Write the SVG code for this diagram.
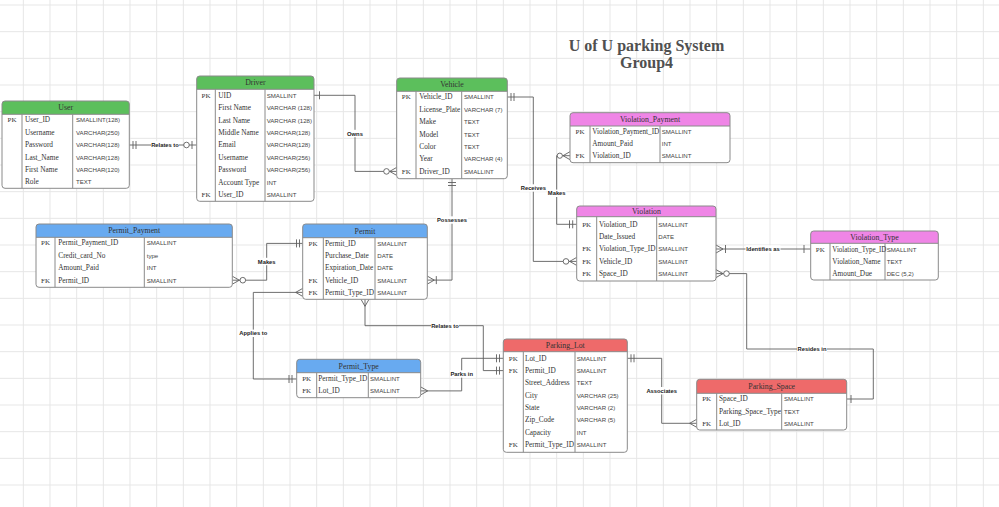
<svg xmlns="http://www.w3.org/2000/svg" width="999" height="507" viewBox="0 0 999 507">
<defs>
<pattern id="grid" x="22.83" y="4.5" width="26.667" height="26.667" patternUnits="userSpaceOnUse">
<path d="M0 0.5 H26.667 M0.5 0 V26.667" fill="none" stroke="#e6e6e6" stroke-width="1"/>
</pattern>
<style>
.bg{fill:#fff}
.bd{fill:none;stroke:#8a8a8a;stroke-width:1}
.dv{stroke:#8a8a8a;stroke-width:1}
.g{fill:#5cbf5c}.m{fill:#ef85e6}.b{fill:#68aaf0}.r{fill:#ee6a6a}
.ht{font-family:"Liberation Serif",serif;font-size:7.8px;fill:#333;text-anchor:middle}
.k{font-family:"Liberation Serif",serif;font-size:7px;fill:#333;text-anchor:middle}
.n{font-family:"Liberation Serif",serif;font-size:7.3px;fill:#333}
.t{font-family:"Liberation Sans",sans-serif;font-size:6.1px;fill:#444}
.ln{fill:none;stroke:#5e5e5e;stroke-width:0.9}
.ci{fill:#fff;stroke:#5e5e5e;stroke-width:0.9}
.lb{font-family:"Liberation Sans",sans-serif;font-size:5.8px;font-weight:bold;fill:#222;text-anchor:middle}
.lbg{fill:#fff}
.ttl{font-family:"Liberation Serif",serif;font-size:16px;font-weight:bold;fill:#505050;text-anchor:middle}
</style>
</defs>
<rect width="999" height="507" fill="#fff"/>
<rect width="999" height="507" fill="url(#grid)"/>

<g id="title">
<text class="ttl" x="646.5" y="50.5">U of U parking System</text>
<text class="ttl" x="646.5" y="67.5">Group4</text>
</g>

<g id="connectors">
<path class="ln" d="M129.3 145 H196.7 M133 141 V149 M136 141 V149 M192 141 V149"/>
<circle class="ci" cx="186.5" cy="145" r="2.8"/>
<rect class="lbg" x="151" y="141.3" width="28" height="7.4"/>
<text class="lb" x="165" y="147.1">Relates to</text>

<path class="ln" d="M314 95.3 H355 V171.4 H396.7 M319.5 91.3 V99.3 M389.7 171.4 L396.7 167.4 M389.7 171.4 L396.7 175.4"/>
<circle class="ci" cx="386.5" cy="171.4" r="2.8"/>
<rect class="lbg" x="346" y="129.8" width="18" height="7.4"/>
<text class="lb" x="355" y="135.6">Owns</text>

<path class="ln" d="M452 178.7 V280.1 H427.3 M448 182.5 H456 M448 185.5 H456 M434.3 280.1 L427.3 276.1 M434.3 280.1 L427.3 284.1 M436.3 276.1 V284.1"/>
<rect class="lbg" x="436" y="216.3" width="32" height="7.4"/>
<text class="lb" x="452" y="222.1">Possesses</text>

<path class="ln" d="M507.3 97 H533.3 V261.4 H576.7 M511 93 V101 M514 93 V101 M569.7 261.4 L576.7 257.4 M569.7 261.4 L576.7 265.4"/>
<circle class="ci" cx="566" cy="261.4" r="2.8"/>
<rect class="lbg" x="520" y="184.3" width="26.6" height="7.4"/>
<text class="lb" x="533.3" y="190.1">Receives</text>

<path class="ln" d="M570 155.7 H556.7 V224.3 H576.7 M563 155.7 L570 151.7 M563 155.7 L570 159.7 M569.5 220.3 V228.3 M572.7 220.3 V228.3"/>
<circle class="ci" cx="559.8" cy="155.7" r="2.6"/>
<rect class="lbg" x="547" y="189.6" width="19.4" height="7.4"/>
<text class="lb" x="556.7" y="195.4">Makes</text>

<path class="ln" d="M716 249 H810.7 M723 249 L716 245 M723 249 L716 253 M725.5 245 V253 M804 245 V253"/>
<rect class="lbg" x="745.5" y="245.3" width="35" height="7.4"/>
<text class="lb" x="763" y="251.1">Identifies as</text>

<path class="ln" d="M716 273.6 H746.7 V349 H873.3 V399 H846.7 M723 273.6 L716 269.6 M723 273.6 L716 277.6 M851 395 V403"/>
<circle class="ci" cx="726.5" cy="273.6" r="2.8"/>
<rect class="lbg" x="797" y="345.3" width="30" height="7.4"/>
<text class="lb" x="812" y="351.1">Resides in</text>

<path class="ln" d="M232.3 280.2 H266.7 V243.4 H302.7 M239.3 280.2 L232.3 276.2 M239.3 280.2 L232.3 284.2 M296.5 239.4 V247.4 M299.5 239.4 V247.4"/>
<circle class="ci" cx="242.8" cy="280.2" r="2.8"/>
<rect class="lbg" x="257" y="257.8" width="19.4" height="7.4"/>
<text class="lb" x="266.7" y="263.6">Makes</text>

<path class="ln" d="M302.7 292.4 H253.3 V379 H296.7 M295.7 292.4 L302.7 288.4 M295.7 292.4 L302.7 296.4 M289 375 V383 M292 375 V383"/>
<rect class="lbg" x="239" y="329.6" width="29" height="7.4"/>
<text class="lb" x="253.3" y="335.4">Applies to</text>

<path class="ln" d="M365 299.3 V325.7 H483.3 V370.6 H503.3 M365 306.3 L361 299.3 M365 306.3 L369 299.3 M496.5 366.6 V374.6 M499.5 366.6 V374.6"/>
<rect class="lbg" x="431" y="322" width="28" height="7.4"/>
<text class="lb" x="445" y="327.8">Relates to</text>

<path class="ln" d="M420.7 390.9 H461.7 V358.3 H503.3 M427.7 390.9 L420.7 386.9 M427.7 390.9 L420.7 394.9 M496.5 354.3 V362.3 M499.5 354.3 V362.3"/>
<rect class="lbg" x="450" y="370.3" width="23.4" height="7.4"/>
<text class="lb" x="461.7" y="376.1">Parks in</text>

<path class="ln" d="M627.3 358.3 H661.7 V423.3 H696.7 M631 354.3 V362.3 M634 354.3 V362.3 M689.7 423.3 L696.7 419.3 M689.7 423.3 L696.7 427.3"/>
<rect class="lbg" x="646" y="387" width="31.4" height="7.4"/>
<text class="lb" x="661.7" y="392.8">Associates</text>
</g>

<g id="user">
<rect class="bg" x="2" y="101" width="127.3" height="87.3" rx="3"/>
<path class="g" d="M2 114.3 V104 Q2 101 5 101 H126.3 Q129.3 101 129.3 104 V114.3 Z"/>
<path class="dv" d="M2 114.3 H129.3 M22 114.3 V188.3 M72.7 114.3 V188.3"/>
<rect class="bd" x="2" y="101" width="127.3" height="87.3" rx="3"/>
<text class="ht" x="65.7" y="110.4">User</text>
<text class="k" x="12" y="122.4">PK</text>
<text class="n" x="25" y="122.4">User_ID</text><text class="t" x="76" y="122.4">SMALLINT(128)</text>
<text class="n" x="25" y="134.8">Username</text><text class="t" x="76" y="134.8">VARCHAR(250)</text>
<text class="n" x="25" y="147.2">Password</text><text class="t" x="76" y="147.2">VARCHAR(128)</text>
<text class="n" x="25" y="159.6">Last_Name</text><text class="t" x="76" y="159.6">VARCHAR(128)</text>
<text class="n" x="25" y="172">First Name</text><text class="t" x="76" y="172">VARCHAR(120)</text>
<text class="n" x="25" y="184.4">Role</text><text class="t" x="76" y="184.4">TEXT</text>
</g>

<g id="driver">
<rect class="bg" x="196.7" y="76" width="117.3" height="125.3" rx="3"/>
<path class="g" d="M196.7 89.3 V79 Q196.7 76 199.7 76 H311 Q314 76 314 79 V89.3 Z"/>
<path class="dv" d="M196.7 89.3 H314 M215.3 89.3 V201.3 M265 89.3 V201.3"/>
<rect class="bd" x="196.7" y="76" width="117.3" height="125.3" rx="3"/>
<text class="ht" x="255.4" y="85.4">Driver</text>
<text class="k" x="206" y="97.7">PK</text>
<text class="n" x="218.3" y="97.7">UID</text><text class="t" x="266.7" y="97.7">SMALLINT</text>
<text class="n" x="218.3" y="110.1">First Name</text><text class="t" x="266.7" y="110.1">VARCHAR (128)</text>
<text class="n" x="218.3" y="122.5">Last Name</text><text class="t" x="266.7" y="122.5">VARCHAR (128)</text>
<text class="n" x="218.3" y="134.9">Middle Name</text><text class="t" x="266.7" y="134.9">VARCHAR(128)</text>
<text class="n" x="218.3" y="147.3">Email</text><text class="t" x="266.7" y="147.3">VARCHAR(128)</text>
<text class="n" x="218.3" y="159.7">Username</text><text class="t" x="266.7" y="159.7">VARCHAR(256)</text>
<text class="n" x="218.3" y="172.1">Password</text><text class="t" x="266.7" y="172.1">VARCHAR(256)</text>
<text class="n" x="218.3" y="184.5">Account Type</text><text class="t" x="266.7" y="184.5">INT</text>
<text class="k" x="206" y="196.9">FK</text>
<text class="n" x="218.3" y="196.9">User_ID</text><text class="t" x="266.7" y="196.9">SMALLINT</text>
</g>

<g id="vehicle">
<rect class="bg" x="396.7" y="78" width="110.6" height="100.7" rx="3"/>
<path class="g" d="M396.7 91.3 V81 Q396.7 78 399.7 78 H504.3 Q507.3 78 507.3 81 V91.3 Z"/>
<path class="dv" d="M396.7 91.3 H507.3 M416 91.3 V178.7 M461.7 91.3 V178.7"/>
<rect class="bd" x="396.7" y="78" width="110.6" height="100.7" rx="3"/>
<text class="ht" x="452" y="87.4">Vehicle</text>
<text class="k" x="406.3" y="99.4">PK</text>
<text class="n" x="419.3" y="99.4">Vehicle_ID</text><text class="t" x="464" y="99.4">SMALLINT</text>
<text class="n" x="419.3" y="111.8">License_Plate</text><text class="t" x="464" y="111.8">VARCHAR (7)</text>
<text class="n" x="419.3" y="124.2">Make</text><text class="t" x="464" y="124.2">TEXT</text>
<text class="n" x="419.3" y="136.6">Model</text><text class="t" x="464" y="136.6">TEXT</text>
<text class="n" x="419.3" y="149">Color</text><text class="t" x="464" y="149">TEXT</text>
<text class="n" x="419.3" y="161.4">Year</text><text class="t" x="464" y="161.4">VARCHAR (4)</text>
<text class="k" x="406.3" y="173.8">FK</text>
<text class="n" x="419.3" y="173.8">Driver_ID</text><text class="t" x="464" y="173.8">SMALLINT</text>
</g>

<g id="violation_payment">
<rect class="bg" x="570" y="112.7" width="160" height="50" rx="3"/>
<path class="m" d="M570 126 V115.7 Q570 112.7 573 112.7 H727 Q730 112.7 730 115.7 V126 Z"/>
<path class="dv" d="M570 126 H730 M590 126 V162.7 M660 126 V162.7"/>
<rect class="bd" x="570" y="112.7" width="160" height="50" rx="3"/>
<text class="ht" x="650" y="122">Violation_Payment</text>
<text class="k" x="580" y="133.7">PK</text>
<text class="n" x="592.3" y="133.7" textLength="67" lengthAdjust="spacingAndGlyphs">Violation_Payment_ID</text><text class="t" x="661.7" y="133.7">SMALLINT</text>
<text class="n" x="592.3" y="145.9">Amount_Paid</text><text class="t" x="661.7" y="145.9">INT</text>
<text class="k" x="580" y="158.1">FK</text>
<text class="n" x="592.3" y="158.1">Violation_ID</text><text class="t" x="661.7" y="158.1">SMALLINT</text>
</g>

<g id="violation">
<rect class="bg" x="576.7" y="206" width="139.3" height="75" rx="3"/>
<path class="m" d="M576.7 216.7 V209 Q576.7 206 579.7 206 H713 Q716 206 716 209 V216.7 Z"/>
<path class="dv" d="M576.7 216.7 H716 M596.7 216.7 V281 M656.7 216.7 V281"/>
<rect class="bd" x="576.7" y="206" width="139.3" height="75" rx="3"/>
<text class="ht" x="646.4" y="214">Violation</text>
<text class="k" x="586.7" y="226.7">PK</text>
<text class="n" x="599" y="226.7">Violation_ID</text><text class="t" x="658.3" y="226.7">SMALLINT</text>
<text class="n" x="599" y="239">Date_Issued</text><text class="t" x="658.3" y="239">DATE</text>
<text class="k" x="586.7" y="251.4">FK</text>
<text class="n" x="599" y="251.4" textLength="56.5" lengthAdjust="spacingAndGlyphs">Violation_Type_ID</text><text class="t" x="658.3" y="251.4">SMALLINT</text>
<text class="k" x="586.7" y="263.8">FK</text>
<text class="n" x="599" y="263.8">Vehicle_ID</text><text class="t" x="658.3" y="263.8">SMALLINT</text>
<text class="k" x="586.7" y="276">FK</text>
<text class="n" x="599" y="276">Space_ID</text><text class="t" x="658.3" y="276">SMALLINT</text>
</g>

<g id="violation_type">
<rect class="bg" x="810.7" y="231" width="127.6" height="49" rx="3"/>
<path class="m" d="M810.7 243.3 V234 Q810.7 231 813.7 231 H935.3 Q938.3 231 938.3 234 V243.3 Z"/>
<path class="dv" d="M810.7 243.3 H938.3 M830 243.3 V280 M885 243.3 V280"/>
<rect class="bd" x="810.7" y="231" width="127.6" height="49" rx="3"/>
<text class="ht" x="874.5" y="239.9">Violation_Type</text>
<text class="k" x="820.3" y="251.6">PK</text>
<text class="n" x="832.3" y="251.6" textLength="54" lengthAdjust="spacingAndGlyphs">Violation_Type_ID</text><text class="t" x="886.7" y="251.6">SMALLINT</text>
<text class="n" x="832.3" y="264">Violation_Name</text><text class="t" x="886.7" y="264">TEXT</text>
<text class="n" x="832.3" y="276.4">Amount_Due</text><text class="t" x="886.7" y="276.4">DEC (5,2)</text>
</g>

<g id="permit_payment">
<rect class="bg" x="36" y="224" width="196.3" height="63.3" rx="3"/>
<path class="b" d="M36 237.3 V227 Q36 224 39 224 H229.3 Q232.3 224 232.3 227 V237.3 Z"/>
<path class="dv" d="M36 237.3 H232.3 M55 237.3 V287.3 M144.3 237.3 V287.3"/>
<rect class="bd" x="36" y="224" width="196.3" height="63.3" rx="3"/>
<text class="ht" x="134.2" y="233.4">Permit_Payment</text>
<text class="k" x="45.5" y="245.4">PK</text>
<text class="n" x="58.3" y="245.4">Permit_Payment_ID</text><text class="t" x="146.7" y="245.4">SMALLINT</text>
<text class="n" x="58.3" y="257.8">Credit_card_No</text><text class="t" x="146.7" y="257.8">type</text>
<text class="n" x="58.3" y="270.2">Amount_Paid</text><text class="t" x="146.7" y="270.2">INT</text>
<text class="k" x="45.5" y="282.6">FK</text>
<text class="n" x="58.3" y="282.6">Permit_ID</text><text class="t" x="146.7" y="282.6">SMALLINT</text>
</g>

<g id="permit">
<rect class="bg" x="302.7" y="224" width="124.6" height="75.3" rx="3"/>
<path class="b" d="M302.7 237.7 V227 Q302.7 224 305.7 224 H424.3 Q427.3 224 427.3 227 V237.7 Z"/>
<path class="dv" d="M302.7 237.7 H427.3 M323.3 237.7 V299.3 M375 237.7 V299.3"/>
<rect class="bd" x="302.7" y="224" width="124.6" height="75.3" rx="3"/>
<text class="ht" x="365" y="233.6">Permit</text>
<text class="k" x="313" y="245.8">PK</text>
<text class="n" x="325" y="245.8">Permit_ID</text><text class="t" x="377.3" y="245.8">SMALLINT</text>
<text class="n" x="325" y="258">Purchase_Date</text><text class="t" x="377.3" y="258">DATE</text>
<text class="n" x="325" y="270.2">Expiration_Date</text><text class="t" x="377.3" y="270.2">DATE</text>
<text class="k" x="313" y="282.5">FK</text>
<text class="n" x="325" y="282.5">Vehicle_ID</text><text class="t" x="377.3" y="282.5">SMALLINT</text>
<text class="k" x="313" y="294.8">FK</text>
<text class="n" x="325" y="294.8">Permit_Type_ID</text><text class="t" x="377.3" y="294.8">SMALLINT</text>
</g>

<g id="permit_type">
<rect class="bg" x="296.7" y="359.3" width="124" height="38.4" rx="3"/>
<path class="b" d="M296.7 372.7 V362.3 Q296.7 359.3 299.7 359.3 H417.7 Q420.7 359.3 420.7 362.3 V372.7 Z"/>
<path class="dv" d="M296.7 372.7 H420.7 M316.7 372.7 V397.7 M368.3 372.7 V397.7"/>
<rect class="bd" x="296.7" y="359.3" width="124" height="38.4" rx="3"/>
<text class="ht" x="358.7" y="368.7">Permit_Type</text>
<text class="k" x="306.7" y="381.4">PK</text>
<text class="n" x="318.3" y="381.4">Permit_Type_ID</text><text class="t" x="370" y="381.4">SMALLINT</text>
<text class="k" x="306.7" y="393.3">FK</text>
<text class="n" x="318.3" y="393.3">Lot_ID</text><text class="t" x="370" y="393.3">SMALLINT</text>
</g>

<g id="parking_lot">
<rect class="bg" x="503.3" y="339" width="124" height="113.3" rx="3"/>
<path class="r" d="M503.3 351.7 V342 Q503.3 339 506.3 339 H624.3 Q627.3 339 627.3 342 V351.7 Z"/>
<path class="dv" d="M503.3 351.7 H627.3 M523.3 351.7 V452.3 M575 351.7 V452.3"/>
<rect class="bd" x="503.3" y="339" width="124" height="113.3" rx="3"/>
<text class="ht" x="565.3" y="348.1">Parking_Lot</text>
<text class="k" x="513.3" y="360.7">PK</text>
<text class="n" x="525" y="360.7">Lot_ID</text><text class="t" x="576.7" y="360.7">SMALLINT</text>
<text class="k" x="513.3" y="373">FK</text>
<text class="n" x="525" y="373">Permit_ID</text><text class="t" x="576.7" y="373">SMALLINT</text>
<text class="n" x="525" y="385.3">Street_Address</text><text class="t" x="576.7" y="385.3">TEXT</text>
<text class="n" x="525" y="397.6">City</text><text class="t" x="576.7" y="397.6">VARCHAR (25)</text>
<text class="n" x="525" y="409.9">State</text><text class="t" x="576.7" y="409.9">VARCHAR (2)</text>
<text class="n" x="525" y="422.2">Zip_Code</text><text class="t" x="576.7" y="422.2">VARCHAR (5)</text>
<text class="n" x="525" y="434.5">Capacity</text><text class="t" x="576.7" y="434.5">INT</text>
<text class="k" x="513.3" y="446.8">FK</text>
<text class="n" x="525" y="446.8">Permit_Type_ID</text><text class="t" x="576.7" y="446.8">SMALLINT</text>
</g>

<g id="parking_space">
<rect class="bg" x="696.7" y="379.3" width="150" height="50.7" rx="3"/>
<path class="r" d="M696.7 393.3 V382.3 Q696.7 379.3 699.7 379.3 H843.7 Q846.7 379.3 846.7 382.3 V393.3 Z"/>
<path class="dv" d="M696.7 393.3 H846.7 M716.7 393.3 V430 M781.7 393.3 V430"/>
<rect class="bd" x="696.7" y="379.3" width="150" height="50.7" rx="3"/>
<text class="ht" x="771.7" y="389">Parking_Space</text>
<text class="k" x="706.7" y="401.4">PK</text>
<text class="n" x="719" y="401.4">Space_ID</text><text class="t" x="784" y="401.4">SMALLINT</text>
<text class="n" x="719" y="413.5">Parking_Space_Type</text><text class="t" x="784" y="413.5">TEXT</text>
<text class="k" x="706.7" y="425.7">FK</text>
<text class="n" x="719" y="425.7">Lot_ID</text><text class="t" x="784" y="425.7">SMALLINT</text>
</g>
</svg>
